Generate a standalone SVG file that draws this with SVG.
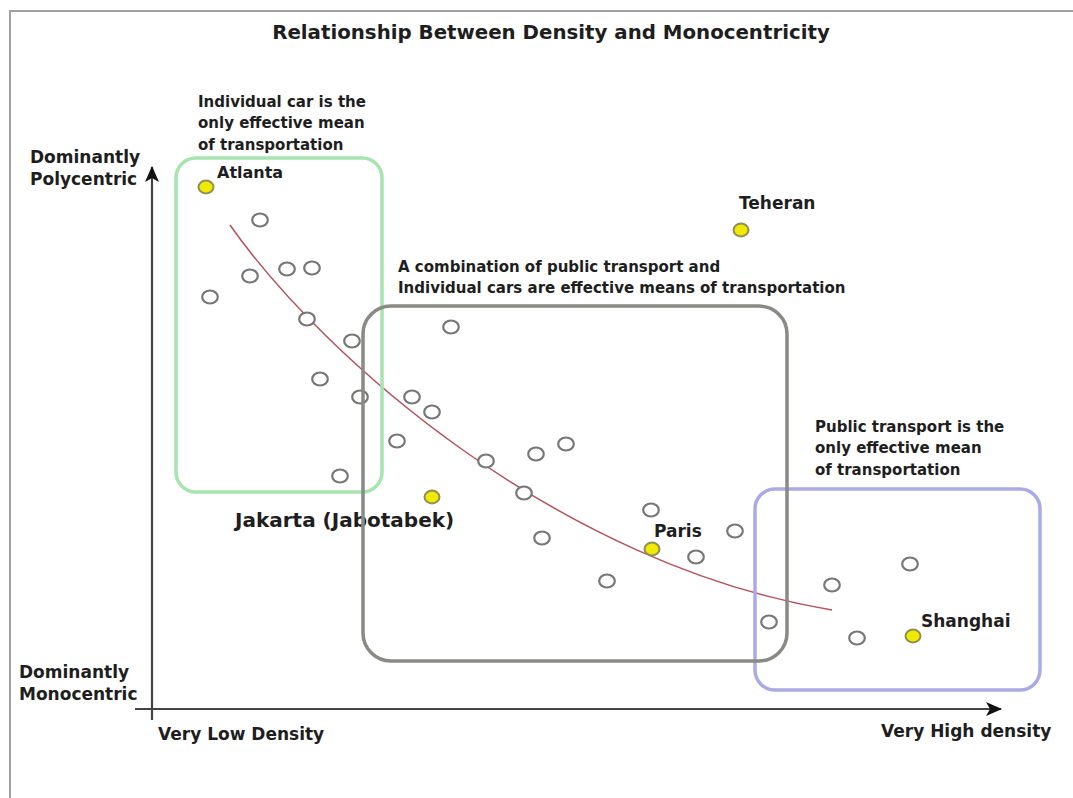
<svg xmlns="http://www.w3.org/2000/svg" width="1073" height="798" viewBox="0 0 1073 798">
  <defs>
    <style>
      text { font-family: "DejaVu Sans", "Liberation Sans", sans-serif; font-weight: bold; fill: #1e1e1e; }
      .t15 { font-size: 15px; }
      .t16 { font-size: 16px; }
      .t17 { font-size: 17px; }
      .pt { fill: #ffffff; stroke: #777; stroke-width: 2.2; }
      .city { fill: #f0ea00; stroke: #8f8f55; stroke-width: 2; }
      .box { fill: none; stroke-width: 3.5; }
      .axis { stroke: #444; stroke-width: 2.2; fill: none; }
    </style>
    <marker id="arr" viewBox="0 0 16 16" refX="15" refY="8" markerWidth="16" markerHeight="16" markerUnits="userSpaceOnUse" orient="auto">
      <path d="M0,1 L16,8 L0,15 L4,8 Z" fill="#111"/>
    </marker>
  </defs>
  <rect width="1073" height="798" fill="#ffffff"/>
  <g id="frame">
    <line x1="9" y1="11" x2="1073" y2="11" stroke="#a0a0a0" stroke-width="2"/>
    <line x1="10" y1="11" x2="10" y2="798" stroke="#a0a0a0" stroke-width="2"/>
  </g>
  <text id="title" x="551" y="39" text-anchor="middle" style="font-size:19.8px">Relationship Between Density and Monocentricity</text>

  <g id="connectors">
    <line class="axis" x1="152" y1="720" x2="152" y2="167" marker-end="url(#arr)"/>
    <line class="axis" x1="135" y1="709" x2="1001" y2="709" marker-end="url(#arr)"/>
    <path id="trend" d="M230,225 C325,360 560,565 832,610" fill="none" stroke="#b4525c" stroke-width="1.5"/>
  </g>

  <g id="axis-labels">
    <text class="t17" x="30" y="163">Dominantly</text>
    <text class="t17" x="30" y="185">Polycentric</text>
    <text class="t17" x="19" y="678">Dominantly</text>
    <text class="t17" x="19" y="700">Monocentric</text>
    <text class="t17" x="158" y="740">Very Low Density</text>
    <text class="t17" x="881" y="737">Very High density</text>
  </g>

  <g id="zone-car">
    <rect class="box" x="176" y="158" width="206" height="334" rx="20" stroke="#a8e4b0"/>
    <text class="t15" x="198" y="107">Individual car is the</text>
    <text class="t15" x="198" y="128">only effective mean</text>
    <text class="t15" x="198" y="150">of transportation</text>
  </g>

  <g id="points">
    <ellipse class="pt" cx="260" cy="220" rx="7.8" ry="6.5"/>
    <ellipse class="pt" cx="250" cy="276" rx="7.8" ry="6.5"/>
    <ellipse class="pt" cx="287" cy="269" rx="7.8" ry="6.5"/>
    <ellipse class="pt" cx="312" cy="268" rx="7.8" ry="6.5"/>
    <ellipse class="pt" cx="210" cy="297" rx="7.8" ry="6.5"/>
    <ellipse class="pt" cx="307" cy="319" rx="7.8" ry="6.5"/>
    <ellipse class="pt" cx="352" cy="341" rx="7.8" ry="6.5"/>
    <ellipse class="pt" cx="320" cy="379" rx="7.8" ry="6.5"/>
    <ellipse class="pt" cx="360" cy="397" rx="7.8" ry="6.5"/>
    <ellipse class="pt" cx="340" cy="476" rx="7.8" ry="6.5"/>
    <ellipse class="pt" cx="451" cy="327" rx="7.8" ry="6.5"/>
    <ellipse class="pt" cx="412" cy="397" rx="7.8" ry="6.5"/>
    <ellipse class="pt" cx="432" cy="412" rx="7.8" ry="6.5"/>
    <ellipse class="pt" cx="397" cy="441" rx="7.8" ry="6.5"/>
    <ellipse class="pt" cx="486" cy="461" rx="7.8" ry="6.5"/>
    <ellipse class="pt" cx="536" cy="454" rx="7.8" ry="6.5"/>
    <ellipse class="pt" cx="566" cy="444" rx="7.8" ry="6.5"/>
    <ellipse class="pt" cx="524" cy="493" rx="7.8" ry="6.5"/>
    <ellipse class="pt" cx="542" cy="538" rx="7.8" ry="6.5"/>
    <ellipse class="pt" cx="607" cy="581" rx="7.8" ry="6.5"/>
    <ellipse class="pt" cx="651" cy="510" rx="7.8" ry="6.5"/>
    <ellipse class="pt" cx="696" cy="557" rx="7.8" ry="6.5"/>
    <ellipse class="pt" cx="735" cy="531" rx="7.8" ry="6.5"/>
    <ellipse class="pt" cx="769" cy="622" rx="7.8" ry="6.5"/>
    <ellipse class="pt" cx="832" cy="585" rx="7.8" ry="6.5"/>
    <ellipse class="pt" cx="857" cy="638" rx="7.8" ry="6.5"/>
    <ellipse class="pt" cx="910" cy="564" rx="7.8" ry="6.5"/>
  </g>

  <g id="atlanta">
    <ellipse class="city" cx="206" cy="187" rx="7.5" ry="6.5"/>
    <text class="t16" x="217" y="178">Atlanta</text>
  </g>
  <g id="teheran">
    <ellipse class="city" cx="741" cy="230" rx="7.5" ry="6.5"/>
    <text class="t17" x="739" y="209">Teheran</text>
  </g>
  <g id="jakarta">
    <ellipse class="city" cx="432" cy="497" rx="7.5" ry="6.5"/>
    <text x="235" y="527" style="font-size:20px">Jakarta (Jabotabek)</text>
  </g>
  <g id="paris">
    <ellipse class="city" cx="652" cy="549" rx="7.5" ry="6.5"/>
    <text class="t17" x="654" y="537">Paris</text>
  </g>
  <g id="shanghai">
    <ellipse class="city" cx="913" cy="636" rx="7.5" ry="6.5"/>
    <text class="t17" x="921" y="627">Shanghai</text>
  </g>

  <g id="zone-public">
    <rect class="box" x="755" y="489" width="285" height="201" rx="20" stroke="#aaaae4"/>
    <text class="t15" x="815" y="432">Public transport is the</text>
    <text class="t15" x="815" y="453">only effective mean</text>
    <text class="t15" x="815" y="475">of transportation</text>
  </g>

  <g id="zone-mixed">
    <rect class="box" x="363" y="306" width="424" height="355" rx="28" stroke="#8a8a84"/>
    <text class="t15" x="398" y="272">A combination of public transport and</text>
    <text class="t15" x="398" y="293">Individual cars are effective means of transportation</text>
  </g>
</svg>
